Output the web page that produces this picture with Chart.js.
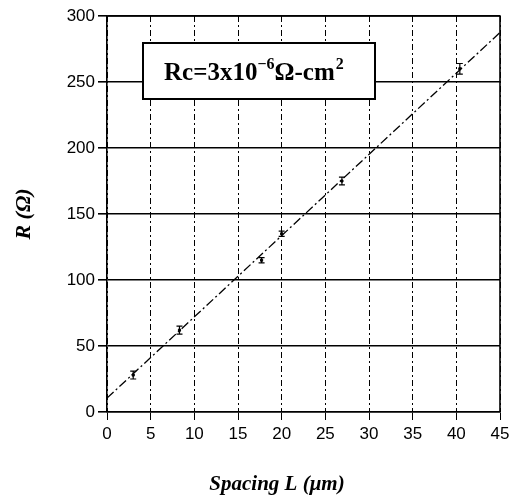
<!DOCTYPE html>
<html>
<head>
<meta charset="utf-8">
<script src="https://cdn.jsdelivr.net/npm/chart.js@4/dist/chart.umd.min.js"></script>
<style>
html,body{margin:0;padding:0;background:#fff;}
#wrap{width:522px;height:497px;position:relative;}
</style>
</head>
<body>
<div id="wrap"><canvas id="c" width="522" height="497"></canvas></div>
<script>
// Measured data: spacing L (µm) vs. total resistance R (Ω)
const spacingL = [3, 8.3, 17.7, 20, 26.9, 40.4];
const resistance = [28, 62, 115, 135, 175, 260];
const errorR = [3, 3, 2, 2, 3, 4];
// Linear fit endpoints
const fitL = [0, 45];
const fitR = [10.5, 287.5];
const xTicks = [0, 5, 10, 15, 20, 25, 30, 35, 40, 45];
const yTicks = [0, 50, 100, 150, 200, 250, 300];
const noteText = ['Rc=3x10', '−6', 'Ω-cm', '2'];
const xTitle = 'Spacing L (μm)';

const errorBarPlugin = {
  id: 'errbars',
  afterDatasetsDraw(chart) {
    const ctx = chart.ctx, xs = chart.scales.x, ys = chart.scales.y;
    ctx.save();
    ctx.strokeStyle = '#000';
    ctx.lineWidth = 1.2;
    spacingL.forEach((l, i) => {
      const px = xs.getPixelForValue(l);
      const top = ys.getPixelForValue(resistance[i] + errorR[i]);
      const bot = ys.getPixelForValue(resistance[i] - errorR[i]);
      ctx.beginPath();
      ctx.moveTo(px, top); ctx.lineTo(px, bot);
      ctx.moveTo(px - 3, top); ctx.lineTo(px + 3, top);
      ctx.moveTo(px - 3, bot); ctx.lineTo(px + 3, bot);
      ctx.stroke();
    });
    ctx.restore();
  }
};

const framePlugin = {
  id: 'frame',
  afterDraw(chart) {
    const ctx = chart.ctx, a = chart.chartArea;
    ctx.save();
    ctx.strokeStyle = '#000';
    ctx.lineWidth = 1.6;
    ctx.beginPath();
    ctx.moveTo(a.left, a.top); ctx.lineTo(a.right, a.top); ctx.lineTo(a.right, a.bottom);
    ctx.stroke();
    // annotation box
    const bx = a.left + 36, by = a.top + 27, bw = 232, bh = 56;
    ctx.fillStyle = '#fff';
    ctx.fillRect(bx, by, bw, bh);
    ctx.lineWidth = 2;
    ctx.strokeRect(bx, by, bw, bh);
    ctx.fillStyle = '#000';
    ctx.textBaseline = 'alphabetic';
    const big = 'bold 25px "Liberation Serif", "Times New Roman", serif';
    const small = 'bold 16px "Liberation Serif", "Times New Roman", serif';
    let x = bx + 21; const y = by + 37;
    ctx.font = big; ctx.fillText(noteText[0], x, y); x += ctx.measureText(noteText[0]).width;
    ctx.font = small; ctx.fillText(noteText[1], x, y - 11); x += ctx.measureText(noteText[1]).width;
    ctx.font = big; ctx.fillText(noteText[2], x, y); x += ctx.measureText(noteText[2]).width;
    ctx.font = small; ctx.fillText(noteText[3], x + 1, y - 11);
    // x-axis title
    ctx.font = 'italic bold 21px "Liberation Serif", "Times New Roman", serif';
    ctx.textAlign = 'center';
    ctx.fillText(xTitle, a.left + 170, a.bottom + 78);
    ctx.restore();
  }
};

new Chart(document.getElementById('c'), {
  type: 'scatter',
  data: {
    datasets: [
      {
        label: 'fit',
        type: 'line',
        data: fitL.map((l, i) => ({x: l, y: fitR[i]})),
        borderColor: '#000',
        borderWidth: 1.3,
        borderDash: [9, 3, 2, 3],
        pointRadius: 0,
        fill: false
      },
      {
        label: 'R',
        data: spacingL.map((l, i) => ({x: l, y: resistance[i]})),
        backgroundColor: '#000',
        borderColor: '#000',
        pointRadius: 1.5,
        pointStyle: 'rect'
      }
    ]
  },
  options: {
    responsive: false,
    animation: false,
    events: [],
    layout: {padding: {top: 16, right: 22, left: 0, bottom: 0}},
    plugins: {legend: {display: false}, tooltip: {enabled: false}},
    scales: {
      x: {
        type: 'linear',
        min: 0, max: 45,
        afterBuildTicks: s => { s.ticks = xTicks.map(v => ({value: v})); },
        afterFit: s => { s.height = 85; },
        grid: {color: '#000', lineWidth: 1, tickLength: 8, drawTicks: true},
        border: {color: '#000', width: 1.6, dash: [6, 3, 2, 3]},
        ticks: {color: '#000', font: {family: '"Liberation Sans", Arial, sans-serif', size: 17}, padding: 4, maxRotation: 0},
        title: {display: false}
      },
      y: {
        type: 'linear',
        min: 0, max: 300,
        afterBuildTicks: s => { s.ticks = yTicks.map(v => ({value: v})); },
        afterFit: s => { s.width = 107; },
        grid: {color: '#000', lineWidth: 1.6, tickLength: 9},
        border: {color: '#000', width: 1.6},
        ticks: {color: '#000', font: {family: '"Liberation Sans", Arial, sans-serif', size: 17}, padding: 3},
        title: {display: true, text: 'R (Ω)', color: '#000',
          font: {family: '"Liberation Serif", "Times New Roman", serif', size: 22, weight: 'bold', style: 'italic'},
          padding: {top: 11, bottom: 0}}
      }
    }
  },
  plugins: [errorBarPlugin, framePlugin]
});
</script>
</body>
</html>
